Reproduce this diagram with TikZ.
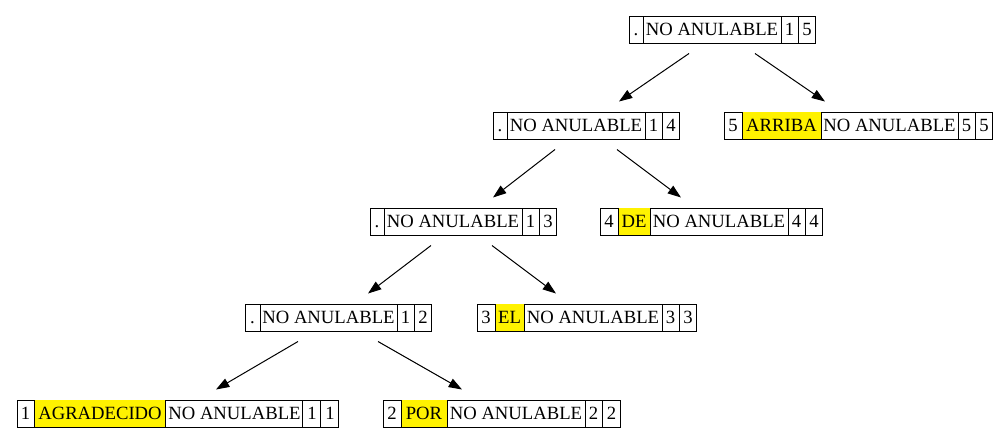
\documentclass[tikz,border=0pt]{standalone}
\usepackage{fontspec}
\IfFontExistsTF{LiberationSerif-Regular.ttf}
  {\newfontfamily\tnr{LiberationSerif-Regular.ttf}}
  {\newfontfamily\tnr{Liberation Serif}}
\setmainfont{Liberation Serif}
\usetikzlibrary{arrows.meta,calc}
\newdimen\pxu \pxu=0.75bp
\newcommand\cell[2]{\makebox[#1\pxu]{\rule[-7.3\pxu]{0pt}{27\pxu}#2}}
\newcommand\ycell[2]{{\fboxsep=0pt\colorbox{yellow}{\cell{#1}{#2}}}}
\newcommand\sepr{\vrule width 0.75bp}
\tikzset{
  rec/.style={draw, line width=0.75bp, inner sep=0pt, anchor=west,
    font=\tnr\fontsize{14bp}{16bp}\selectfont},
  edge/.style={line width=0.75bp, -{Triangle[length=10bp,width=7bp]}},
}
\begin{document}
\begin{tikzpicture}[x=0.75bp,y=-0.75bp]
\useasboundingbox (0,0) rectangle (1008,443);
% records
\node[rec] (root) at (629,29.5)
  {\cell{13}{.}\sepr\cell{137}{NO ANULABLE}\sepr\cell{16}{1}\sepr\cell{17}{5}};
\node[rec] (n14) at (493,125.5)
  {\cell{13}{.}\sepr\cell{137}{NO ANULABLE}\sepr\cell{16}{1}\sepr\cell{17}{4}};
\node[rec] (arriba) at (724,125.5)
  {\cell{17}{5}\sepr\ycell{78}{ARRIBA}\sepr\cell{136}{NO ANULABLE}\sepr\cell{16}{5}\sepr\cell{17}{5}};
\node[rec] (n13) at (370,221.5)
  {\cell{13}{.}\sepr\cell{137}{NO ANULABLE}\sepr\cell{16}{1}\sepr\cell{17}{3}};
\node[rec] (de) at (600,221.5)
  {\cell{17}{4}\sepr\ycell{31}{DE}\sepr\cell{137}{NO ANULABLE}\sepr\cell{16}{4}\sepr\cell{17}{4}};
\node[rec] (n12) at (245,317.5)
  {\cell{14}{.}\sepr\cell{136}{NO ANULABLE}\sepr\cell{16}{1}\sepr\cell{17}{2}};
\node[rec] (el) at (477,317.5)
  {\cell{17}{3}\sepr\ycell{28}{EL}\sepr\cell{137}{NO ANULABLE}\sepr\cell{16}{3}\sepr\cell{17}{3}};
\node[rec] (agr) at (17,413.5)
  {\cell{16}{1}\sepr\ycell{131}{AGRADECIDO}\sepr\cell{136}{NO ANULABLE}\sepr\cell{17}{1}\sepr\cell{17}{1}};
\node[rec] (por) at (383,413.5)
  {\cell{17}{2}\sepr\ycell{45}{POR}\sepr\cell{137}{NO ANULABLE}\sepr\cell{16}{2}\sepr\cell{18}{2}};
% edges
\draw[edge] ($(root.south west)+(60,10)$) -- ($(n14.north west)+(126,-10)$);
\draw[edge] ($(root.south west)+(126,10)$) -- ($(arriba.north west)+(101,-10)$);
\draw[edge] ($(n14.south west)+(62,10)$) -- ($(n13.north west)+(123,-10)$);
\draw[edge] ($(n14.south west)+(124,10)$) -- ($(de.north west)+(81,-10)$);
\draw[edge] ($(n13.south west)+(61,10)$) -- ($(n12.north west)+(123,-10)$);
\draw[edge] ($(n13.south west)+(122,10)$) -- ($(el.north west)+(79,-10)$);
\draw[edge] ($(n12.south west)+(53,10)$) -- ($(agr.north west)+(199,-10)$);
\draw[edge] ($(n12.south west)+(133,10)$) -- ($(por.north west)+(79,-10)$);
\end{tikzpicture}
\end{document}
